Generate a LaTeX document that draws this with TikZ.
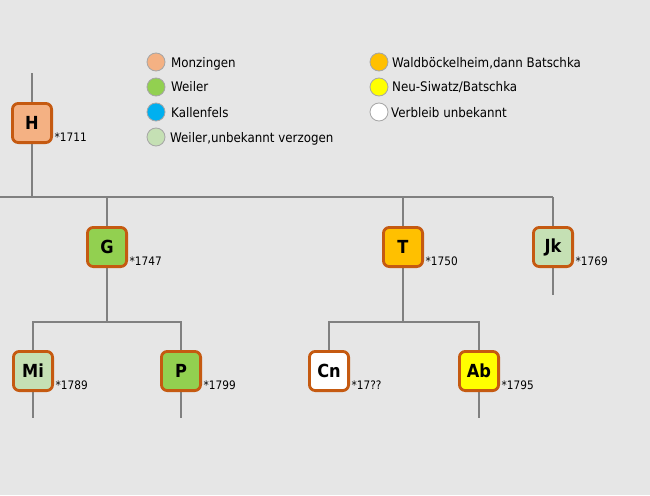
\documentclass[tikz,border=0pt]{standalone}
\usepackage{fontspec}
\setmainfont{DejaVu Sans Condensed}
\usetikzlibrary{calc}
\definecolor{bg}{HTML}{E6E6E6}
\definecolor{boxborder}{HTML}{C55A11}
\definecolor{linecol}{HTML}{808080}
\definecolor{dotborder}{HTML}{A6A6A6}
\definecolor{cMonz}{HTML}{F4B183}
\definecolor{cWeiler}{HTML}{92D050}
\definecolor{cKallen}{HTML}{00B0F0}
\definecolor{cWeilerU}{HTML}{C5E0B4}
\definecolor{cWald}{HTML}{FFC000}
\definecolor{cNeu}{HTML}{FFFF00}
\definecolor{cUnbek}{HTML}{FFFFFF}
\begin{document}
\begin{tikzpicture}[x=1pt,y=-1pt,
  person/.style={draw=boxborder, line width=2.8pt, rounded corners=6pt,
    minimum size=39.2pt, inner sep=0pt, font=\fontsize{18}{18}\selectfont\bfseries},
  year/.style={anchor=base west, inner sep=0pt, font=\fontsize{11.7}{12}\selectfont},
  legdot/.style={circle, draw=dotborder, line width=0.8pt, minimum size=18pt, inner sep=0pt},
  legtext/.style={anchor=base west, inner sep=0pt, font=\fontsize{13.2}{14}\selectfont},
  link/.style={draw=linecol, line width=1.8pt}
]
\path[fill=bg] (0,0) rectangle (650,495);
\useasboundingbox (0,0) rectangle (650,495);

% legend
\node[legdot, fill=cMonz]    (l1) at (156,62)  {};
\node[legdot, fill=cWeiler]  (l2) at (156,87)  {};
\node[legdot, fill=cKallen]  (l3) at (156,112) {};
\node[legdot, fill=cWeilerU] (l4) at (156,137) {};
\node[legtext] (t1) at (171,67)  {Monzingen};
\node[legtext] (t2) at (171,92)  {Weiler};
\node[legtext] (t3) at (171,117) {Kallenfels};
\node[legtext] (t4) at (170,142) {Weiler,unbekannt verzogen};
\node[legdot, fill=cWald]  (l5) at (379,62)  {};
\node[legdot, fill=cNeu]   (l6) at (379,87)  {};
\node[legdot, fill=cUnbek] (l7) at (379,112) {};
\node[legtext] (t5) at (392,67)  {Waldböckelheim,dann Batschka};
\node[legtext] (t6) at (392,92)  {Neu-Siwatz/Batschka};
\node[legtext] (t7) at (391,117) {Verbleib unbekannt};

% coordinates
\coordinate (Htop) at (32,73);
\coordinate (busL) at (0,197);
\coordinate (busR) at (553,197);
\coordinate (Gbus) at (107,322);
\coordinate (Tbus) at (403,322);

% connectors (behind the boxes)
\draw[link] (Htop) -- (32,123) -- (32,197);
\draw[link] (busL) -- (busR);
\draw[link] (107,197) -- (107,247);
\draw[link] (403,197) -- (403,247);
\draw[link] (busR) -- (553,295);
\draw[link] (107,247) -- (Gbus);
\draw[link] (33,371) -- (33,322) -- (181,322) -- (181,418);
\draw[link] (33,371) -- (33,418);
\draw[link] (403,247) -- (Tbus);
\draw[link] (329,371) -- (329,322) -- (479,322) -- (479,418);

% persons
\node[person, fill=cMonz]    (H)  at (32,123)  {H};
\node[person, fill=cWeiler]  (G)  at (107,247) {G};
\node[person, fill=cWald]    (T)  at (403,247) {T};
\node[person, fill=cWeilerU] (Jk) at (553,247) {Jk};
\node[person, fill=cWeilerU] (Mi) at (33,371)  {Mi};
\node[person, fill=cWeiler]  (P)  at (181,371) {P};
\node[person, fill=cUnbek]   (Cn) at (329,371) {Cn};
\node[person, fill=cNeu]     (Ab) at (479,371) {Ab};

% years
\node[year] (yH)  at ($(H.south east)+(1.5,-3)$)  {*1711};
\node[year] (yG)  at ($(G.south east)+(1.5,-3)$)  {*1747};
\node[year] (yT)  at ($(T.south east)+(1.5,-3)$)  {*1750};
\node[year] (yJk) at ($(Jk.south east)+(1.5,-3)$) {*1769};
\node[year] (yMi) at ($(Mi.south east)+(1.5,-3)$) {*1789};
\node[year] (yP)  at ($(P.south east)+(1.5,-3)$)  {*1799};
\node[year] (yCn) at ($(Cn.south east)+(1.5,-3)$) {*17??};
\node[year] (yAb) at ($(Ab.south east)+(1.5,-3)$) {*1795};
\end{tikzpicture}
\end{document}
